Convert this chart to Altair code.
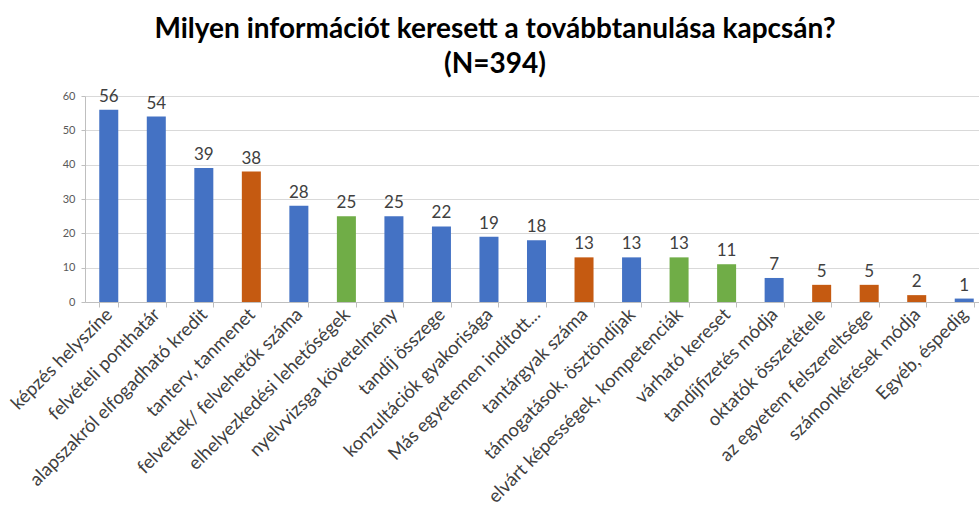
import altair as alt
import pandas as pd

categories = [
    "képzés helyszíne", "felvételi ponthatár", "alapszakról elfogadható kredit",
    "tanterv, tanmenet", "felvettek/ felvehetők száma", "elhelyezkedési lehetőségek",
    "nyelvvizsga követelmény", "tandíj összege", "konzultációk gyakorisága",
    "Más egyetemen indított...", "tantárgyak száma", "támogatások, ösztöndíjak",
    "elvárt képességek, kompetenciák", "várható kereset", "tandíjfizetés módja",
    "oktatók összetétele", "az egyetem felszereltsége", "számonkérések módja",
    "Egyéb, éspedig",
]
values = [56, 54, 39, 38, 28, 25, 25, 22, 19, 18, 13, 13, 13, 11, 7, 5, 5, 2, 1]
groups = ["A", "A", "A", "B", "A", "C", "A", "A", "A", "A", "B", "A", "C", "C", "A", "B", "B", "B", "A"]
group_domain = ["A", "B", "C"]
group_colors = ["#4472C4", "#C55A11", "#70AD47"]

df = pd.DataFrame({"kat": categories, "db": values, "csoport": groups})

FONT = "Lato"

x = alt.X(
    "kat:N", sort=categories,
    scale=alt.Scale(range=[0, 903], paddingInner=0.6, paddingOuter=0.3),
    axis=alt.Axis(
        title=None, labelAngle=-45, labelAlign="right", labelBaseline="middle",
        labelFontSize=18.5, labelColor="#404040", labelFont=FONT, labelPadding=4,
        domainColor="#bfbfbf", tickColor="#bfbfbf", tickSize=5, tickBand="extent",
        labelLimit=400, labelOverlap=False,
    ),
)
y = alt.Y(
    "db:Q", scale=alt.Scale(domain=[0, 60]),
    axis=alt.Axis(
        title=None, values=[0, 10, 20, 30, 40, 50, 60], labelFontSize=11,
        labelColor="#595959", labelFont=FONT, gridColor="#d9d9d9",
        domain=True, domainColor="#bfbfbf", tickColor="#bfbfbf", tickSize=4, labelPadding=6,
    ),
)

bars = alt.Chart(df).mark_bar().encode(
    x=x, y=y,
    color=alt.Color("csoport:N", scale=alt.Scale(domain=group_domain, range=group_colors), legend=None),
)
labels = alt.Chart(df).mark_text(
    baseline="bottom", dy=-4, fontSize=17, color="#404040", font=FONT
).encode(x=x, y=y, text="db:Q")

chart = (bars + labels).properties(
    width=894, height=206,
    autosize=alt.AutoSizeParams(type="none"),
    padding={"left": 85, "top": 96, "right": 0, "bottom": 216},
    title=alt.TitleParams(
        ["Milyen információt keresett a továbbtanulása kapcsán?", "(N=394)"],
        font=FONT, fontSize=28, fontWeight="bold", color="#000000",
        anchor="middle", dx=-37, offset=9, lineHeight=35,
    ),
).configure_view(stroke=None)

chart.save("out.html", embed_options={"renderer": "svg", "actions": False})
